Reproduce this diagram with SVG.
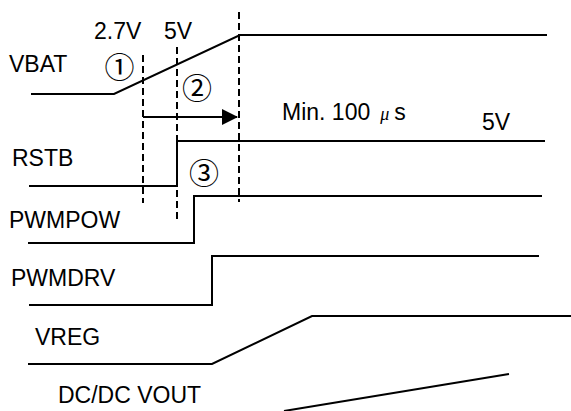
<svg xmlns="http://www.w3.org/2000/svg" width="571" height="411" viewBox="0 0 571 411">
<style>
.t{font-family:"Liberation Sans",Arial,sans-serif;font-size:23px;fill:#000}
.c{font-family:"Noto Sans CJK JP","Noto Sans CJK SC",sans-serif;font-size:30px;fill:#000}
.w{fill:none;stroke:#000;stroke-width:2}
.d{fill:none;stroke:#000;stroke-width:2;stroke-dasharray:7,4}
</style>
<defs>
<marker id="ah" markerWidth="16" markerHeight="16" viewBox="0 0 16 16" refX="15" refY="8" orient="auto" markerUnits="userSpaceOnUse">
<path d="M0,0 L16,8 L0,16 Z" fill="#000"/>
</marker>
</defs>
<rect width="571" height="411" fill="#fff"/>
<g id="vbat">
<polyline class="w" points="31,94 114,94 240,35 547,35"/>
<text class="t" x="9" y="72">VBAT</text>
</g>
<g id="rstb">
<polyline class="w" points="29,186 177,186 177,141 545,141"/>
<text class="t" x="12" y="166">RSTB</text>
</g>
<g id="pwmpow">
<polyline class="w" points="28,243 194,243 194,196 542,196"/>
<text class="t" x="9" y="228">PWMPOW</text>
</g>
<g id="pwmdrv">
<polyline class="w" points="29,305 212,305 212,256 539,256"/>
<text class="t" x="11" y="286">PWMDRV</text>
</g>
<g id="vreg">
<polyline class="w" points="28,364 212,364 312,316 571,316"/>
<text class="t" x="35" y="345">VREG</text>
</g>
<g id="dcdc">
<polyline class="w" points="284,411 509,374"/>
<text class="t" x="58" y="403">DC/DC VOUT</text>
</g>
<g id="connectors">
<line class="d" x1="143" y1="55" x2="143" y2="203"/>
<line class="d" x1="177" y1="47" x2="177" y2="222"/>
<line class="d" x1="239" y1="12" x2="239" y2="202"/>
<line class="w" x1="143" y1="117" x2="237" y2="117" marker-end="url(#ah)"/>
</g>
<g id="labels">
<text class="t" x="94" y="39">2.7V</text>
<text class="t" x="164" y="39">5V</text>
<text class="c" x="119.5" y="78" text-anchor="middle">①</text>
<text class="c" x="197" y="99" text-anchor="middle">②</text>
<text class="c" x="204" y="184" text-anchor="middle">③</text>
<text class="t" x="282" y="120">Min. 100<tspan font-family="'Liberation Serif',serif" font-style="italic" font-size="18px" dx="10">μ</tspan><tspan dx="5">s</tspan></text>
<text class="t" x="482" y="130">5V</text>
</g>
</svg>
